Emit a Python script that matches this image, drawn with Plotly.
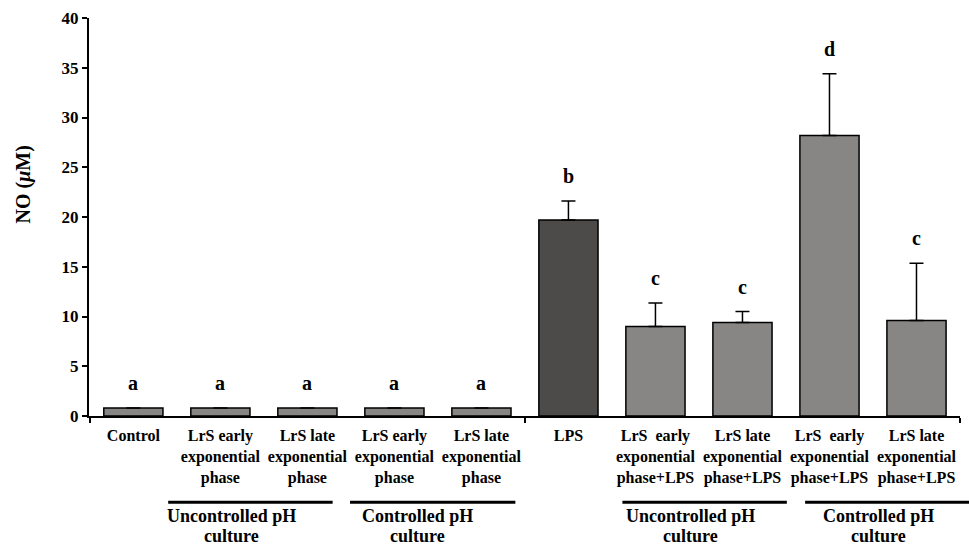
import plotly.graph_objects as go

# Nitric oxide production per treatment
categories = [
    "Control",
    "LrS early<br>exponential<br>phase",
    "LrS late<br>exponential<br>phase",
    "LrS early<br>exponential<br>phase",
    "LrS late<br>exponential<br>phase",
    "LPS",
    "LrS  early<br>exponential<br>phase+LPS",
    "LrS late<br>exponential<br>phase+LPS",
    "LrS  early<br>exponential<br>phase+LPS",
    "LrS late<br>exponential<br>phase+LPS",
]
no_values = [0.8, 0.8, 0.8, 0.8, 0.8, 19.7, 9.0, 9.4, 28.2, 9.6]
no_errors = [0, 0, 0, 0, 0, 1.9, 2.35, 1.1, 6.2, 5.75]
sig_letters = ["a", "a", "a", "a", "a", "b", "c", "c", "d", "c"]

# Culture-condition groups: (label lines, first category, last category)
groups = [
    (["Uncontrolled pH", "culture"], 1, 2),
    (["Controlled pH", "culture"], 3, 4),
    (["Uncontrolled pH", "culture"], 6, 7),
    (["Controlled pH", "culture"], 8, 9),
]

FONT = "Liberation Serif"
LIGHT = "#878685"
DARK = "#4c4b49"

x_idx = list(range(len(categories)))
colors = [DARK if c == "LPS" else LIGHT for c in categories]

fig = go.Figure()
fig.add_trace(go.Bar(
    x=x_idx,
    y=no_values,
    width=0.68,
    marker=dict(color=colors, line=dict(color="black", width=1.5)),
    error_y=dict(type="data", symmetric=False, array=no_errors,
                 arrayminus=[0] * len(no_errors),
                 color="black", thickness=1.5, width=7),
    showlegend=False,
))

XR = [-0.51, 9.5]


def to_paper(x):
    return (x - XR[0]) / (XR[1] - XR[0])


annotations = []
for i, (v, e, t) in enumerate(zip(no_values, no_errors, sig_letters)):
    annotations.append(dict(
        x=i, y=v + e, xref="x", yref="y", text=t, showarrow=False,
        yanchor="bottom", yshift=12,
        font=dict(family=FONT, size=20, color="black", weight="bold"),
    ))

shapes = []
spans = {1: (-0.6, 0.29), 3: (-0.51, 0.39), 6: (-0.38, 0.51), 8: (-0.28, 0.62)}
text_off = {1: -0.37, 3: -0.23, 6: -0.1, 8: 0.06}
line_y = [-0.252, -0.302]
for lines, a, b in groups:
    lo, hi = spans[a]
    shapes.append(dict(
        type="line", xref="paper", yref="paper",
        x0=to_paper(a + lo), x1=to_paper(b + hi), y0=-0.217, y1=-0.217,
        line=dict(color="black", width=3),
    ))
    for txt, yy in zip(lines, line_y):
        annotations.append(dict(
            x=to_paper((a + b) / 2 + text_off[a]), y=yy, xref="paper", yref="paper",
            text=txt, showarrow=False, align="center",
            xanchor="center", yanchor="middle",
            font=dict(family=FONT, size=18, color="black", weight="bold"),
        ))

# Rotated y-axis title
annotations.append(dict(
    x=-0.075, y=0.581, xref="paper", yref="paper",
    text="NO (<i>μ</i>M)", textangle=-90, showarrow=False,
    xanchor="center", yanchor="middle",
    font=dict(family=FONT, size=20, color="black", weight="bold"),
))

fig.update_layout(
    width=969, height=546,
    margin=dict(l=89, r=9, t=15, b=130),
    paper_bgcolor="white", plot_bgcolor="white",
    font=dict(family=FONT, size=16, color="black", weight="bold"),
    bargap=0.32,
    annotations=annotations,
    shapes=shapes,
    xaxis=dict(
        range=XR, tickmode="array", tickvals=x_idx, ticktext=categories,
        ticks="", showline=True, linecolor="black", linewidth=2,
        showgrid=False, zeroline=False, tickangle=0, ticklabelstandoff=4,
        tickfont=dict(family=FONT, size=16, color="black", weight="bold"),
        minor=dict(tickmode="array", tickvals=[-0.5, 4.5, 9.5], ticks="outside",
                   ticklen=5, tickwidth=2, tickcolor="black", showgrid=False),
    ),
    yaxis=dict(
        range=[0, 40], dtick=5, tick0=0, ticks="outside", ticklen=5, tickwidth=2,
        tickcolor="black", showline=True, linecolor="black", linewidth=2,
        showgrid=False, zeroline=False,
        tickfont=dict(family=FONT, size=17, color="black", weight="bold"),
    ),
)

fig.write_html("out.html")
